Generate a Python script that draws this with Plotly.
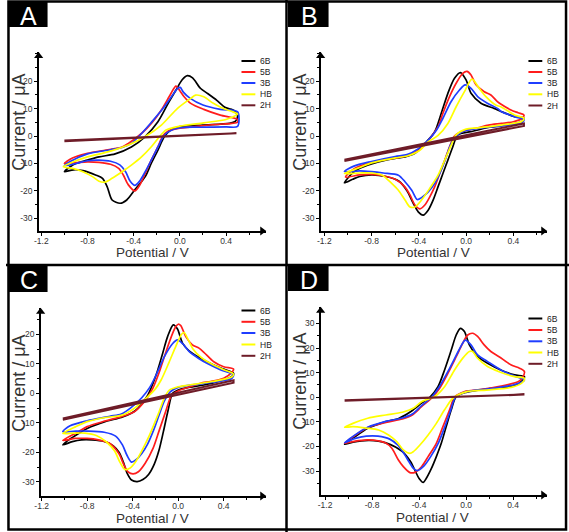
import plotly.graph_objects as go

# ---------------- data (potential V, current uA) ----------------
SERIES = ["6B", "5B", "3B", "HB", "2H"]
X_TICKS = [-1.2, -0.8, -0.4, 0.0, 0.4]
X_TICK_TEXT = ["-1.2", "-0.8", "-0.4", "0.0", "0.4"]
Y_TICKS_ABC = [-30, -20, -10, 0, 10, 20]
Y_TICKS_D = [-30, -20, -10, 0, 10, 20, 30]

A_6B = [(-1.0,-13.0),(-0.95,-11.2),(-0.9,-10.0),(-0.8,-8.8),(-0.7,-7.6),(-0.56,-6.5),(-0.42,-4.0),(-0.3,-0.2),(-0.19,5.2),(-0.1,12.0),(-0.03,17.0),(0.02,20.5),(0.065,22.0),(0.11,21.2),(0.18,17.3),(0.24,15.5),(0.32,13.0),(0.39,10.5),(0.44,9.8),(0.47,9.2),(0.5,7.2),(0.48,5.3),(0.43,4.6),(0.2,4.0),(0.0,3.4),(-0.08,2.2),(-0.134,-0.2),(-0.19,-5.1),(-0.247,-9.9),(-0.3,-14.8),(-0.39,-19.6),(-0.46,-23.3),(-0.517,-24.5),(-0.587,-23.3),(-0.63,-18.4),(-0.67,-15.4),(-0.73,-14.2),(-0.84,-12.6),(-0.92,-12.3),(-1.0,-13.0)]
A_5B = [(-1.0,-10.0),(-0.93,-8.0),(-0.8,-6.3),(-0.64,-5.1),(-0.5,-4.0),(-0.446,-2.7),(-0.33,1.0),(-0.247,4.6),(-0.16,9.5),(-0.077,15.5),(-0.034,18.2),(0.0,16.5),(0.037,14.3),(0.094,11.9),(0.207,9.7),(0.35,7.6),(0.5,6.0),(0.5,5.0),(0.45,4.6),(0.3,4.2),(0.1,3.3),(0.0,2.9),(-0.1,1.8),(-0.15,-0.2),(-0.19,-3.9),(-0.247,-8.7),(-0.3,-13.6),(-0.346,-17.8),(-0.39,-20.0),(-0.446,-17.8),(-0.49,-14.2),(-0.53,-11.8),(-0.6,-10.3),(-0.7,-9.6),(-0.8,-9.4),(-0.9,-9.7),(-1.0,-10.0)]
A_3B = [(-1.0,-10.8),(-0.95,-9.3),(-0.8,-6.5),(-0.6,-5.0),(-0.5,-4.2),(-0.42,-2.7),(-0.33,1.0),(-0.25,4.8),(-0.15,9.8),(-0.07,14.5),(-0.02,17.3),(0.003,17.7),(0.03,16.0),(0.09,13.7),(0.2,11.3),(0.35,9.7),(0.5,8.8),(0.5,3.5),(0.4,3.3),(0.2,3.2),(0.0,3.0),(-0.1,1.5),(-0.14,0.0),(-0.19,-4.0),(-0.25,-9.0),(-0.3,-13.0),(-0.35,-16.5),(-0.39,-18.0),(-0.43,-16.5),(-0.47,-13.0),(-0.52,-10.5),(-0.6,-9.2),(-0.7,-8.8),(-0.8,-9.0),(-0.9,-10.0),(-1.0,-10.8)]
A_HB = [(-1.01,-11.2),(-0.9,-9.0),(-0.8,-7.6),(-0.73,-6.9),(-0.6,-5.5),(-0.446,-3.3),(-0.3,-0.2),(-0.16,4.0),(-0.02,10.1),(0.094,13.7),(0.136,14.9),(0.207,14.3),(0.29,11.9),(0.377,10.0),(0.46,8.8),(0.5,8.0),(0.45,6.8),(0.4,6.0),(0.207,4.8),(0.0,3.6),(-0.12,2.2),(-0.176,-0.2),(-0.247,-3.9),(-0.33,-7.5),(-0.417,-10.5),(-0.5,-13.0),(-0.587,-15.4),(-0.65,-16.8),(-0.7,-16.5),(-0.757,-14.8),(-0.84,-13.0),(-0.93,-11.8),(-1.01,-11.2)]
A_2H = [(-1.0,-1.9),(0.49,0.75),(0.49,1.0),(-1.0,-1.6)]

B_6B = [(-1.03,-17.1),(-0.96,-13.5),(-0.9,-11.8),(-0.8,-10.2),(-0.68,-8.8),(-0.58,-8.0),(-0.517,-7.6),(-0.433,-6.3),(-0.335,-2.1),(-0.265,1.6),(-0.21,8.3),(-0.154,15.6),(-0.098,21.1),(-0.048,23.2),(0.0,20.5),(0.042,15.6),(0.126,12.0),(0.237,10.1),(0.3,8.9),(0.41,7.1),(0.49,6.5),(0.47,5.2),(0.4,4.5),(0.2,3.2),(0.04,1.6),(-0.07,0.4),(-0.112,-3.9),(-0.154,-8.8),(-0.196,-13.7),(-0.237,-18.5),(-0.279,-23.4),(-0.321,-27.1),(-0.363,-28.9),(-0.405,-27.7),(-0.447,-24.6),(-0.5,-20.0),(-0.567,-16.5),(-0.68,-14.8),(-0.8,-14.2),(-0.9,-14.8),(-0.96,-15.8),(-1.03,-17.1)]
B_5B = [(-1.02,-15.0),(-0.95,-12.0),(-0.9,-11.0),(-0.8,-9.6),(-0.6,-8.0),(-0.5,-7.2),(-0.4,-5.2),(-0.33,-2.2),(-0.293,-0.2),(-0.237,3.4),(-0.196,8.3),(-0.14,14.4),(-0.084,19.3),(-0.028,22.9),(0.008,23.6),(0.042,22.3),(0.084,18.7),(0.154,16.2),(0.21,15.0),(0.265,12.6),(0.3,11.5),(0.38,9.5),(0.44,8.5),(0.49,7.7),(0.47,6.3),(0.4,5.2),(0.3,4.6),(0.19,4.0),(0.1,3.0),(0.0,2.0),(-0.06,1.2),(-0.098,0.0),(-0.14,-3.9),(-0.18,-8.8),(-0.223,-13.7),(-0.265,-18.5),(-0.307,-22.2),(-0.349,-25.2),(-0.39,-26.6),(-0.433,-25.2),(-0.475,-21.5),(-0.52,-18.5),(-0.6,-15.8),(-0.7,-14.5),(-0.8,-14.0),(-0.9,-14.2),(-1.02,-15.0)]
B_3B = [(-1.03,-13.0),(-0.95,-11.0),(-0.8,-9.3),(-0.6,-7.5),(-0.5,-6.8),(-0.4,-4.5),(-0.32,-1.5),(-0.25,2.2),(-0.196,6.5),(-0.126,12.6),(-0.056,16.8),(-0.008,18.7),(0.042,17.4),(0.098,14.4),(0.18,12.0),(0.265,10.1),(0.3,8.9),(0.41,7.1),(0.49,5.9),(0.47,4.8),(0.4,4.2),(0.2,3.3),(0.0,2.0),(-0.07,0.5),(-0.126,-2.7),(-0.168,-7.6),(-0.21,-12.4),(-0.265,-17.3),(-0.32,-20.4),(-0.377,-22.5),(-0.413,-23.2),(-0.46,-19.8),(-0.517,-16.7),(-0.573,-14.3),(-0.7,-13.5),(-0.8,-13.0),(-0.9,-12.7),(-1.03,-13.0)]
B_HB = [(-1.03,-13.7),(-0.9,-11.5),(-0.8,-9.8),(-0.6,-8.0),(-0.5,-7.3),(-0.4,-5.5),(-0.32,-2.1),(-0.237,0.2),(-0.154,4.6),(-0.084,10.7),(-0.014,16.2),(0.05,20.8),(0.112,17.4),(0.168,14.4),(0.251,11.3),(0.293,10.7),(0.41,7.7),(0.49,6.5),(0.47,5.3),(0.3,4.0),(0.1,3.0),(0.0,2.5),(-0.084,0.4),(-0.126,-3.3),(-0.18,-8.8),(-0.237,-14.3),(-0.307,-19.1),(-0.377,-23.4),(-0.433,-25.9),(-0.475,-25.9),(-0.517,-23.4),(-0.573,-19.8),(-0.63,-17.3),(-0.71,-14.3),(-0.8,-13.5),(-0.9,-13.5),(-1.03,-13.7)]
B_2H = [(-1.03,-8.7),(0.49,4.6),(0.49,3.7),(-1.03,-9.1)]

C_6B = [(-1.014,-17.5),(-0.962,-15.8),(-0.875,-13.6),(-0.8,-11.9),(-0.643,-9.6),(-0.5,-8.2),(-0.412,-6.8),(-0.354,-5.1),(-0.267,-0.6),(-0.194,6.2),(-0.136,13.6),(-0.093,19.2),(-0.043,23.2),(-0.006,21.8),(0.038,17.0),(0.096,14.4),(0.197,11.9),(0.313,9.6),(0.4,8.2),(0.487,6.8),(0.47,5.6),(0.371,4.2),(0.226,2.8),(0.081,1.9),(0.0,1.1),(-0.049,0.0),(-0.09,-6.0),(-0.13,-13.0),(-0.17,-19.5),(-0.21,-24.0),(-0.26,-27.5),(-0.31,-29.2),(-0.36,-29.9),(-0.41,-29.4),(-0.45,-27.0),(-0.48,-23.5),(-0.52,-20.0),(-0.57,-17.8),(-0.65,-16.3),(-0.76,-15.8),(-0.85,-15.8),(-0.93,-16.4),(-1.014,-17.5)]
C_5B = [(-1.014,-16.0),(-0.875,-13.0),(-0.8,-11.3),(-0.643,-9.4),(-0.5,-7.9),(-0.383,-6.2),(-0.296,-2.8),(-0.223,1.7),(-0.165,7.3),(-0.107,14.1),(-0.049,20.3),(-0.02,22.6),(0.0,23.4),(0.023,22.9),(0.067,19.2),(0.125,16.4),(0.183,15.3),(0.226,13.9),(0.313,10.7),(0.4,9.0),(0.487,8.2),(0.47,7.0),(0.4,5.1),(0.284,4.0),(0.197,3.4),(0.081,1.9),(0.0,0.8),(-0.06,-0.8),(-0.11,-6.2),(-0.165,-12.4),(-0.22,-18.6),(-0.29,-23.7),(-0.35,-26.6),(-0.397,-27.3),(-0.44,-26.6),(-0.48,-24.0),(-0.52,-20.5),(-0.6,-17.0),(-0.7,-15.8),(-0.8,-15.3),(-0.904,-15.3),(-1.014,-16.0)]
C_3B = [(-1.014,-13.0),(-0.95,-11.0),(-0.8,-9.3),(-0.6,-7.8),(-0.5,-7.0),(-0.42,-5.0),(-0.32,-1.5),(-0.25,2.0),(-0.19,6.5),(-0.12,12.5),(-0.05,16.8),(-0.006,18.1),(0.04,16.8),(0.1,14.0),(0.18,11.8),(0.27,9.8),(0.37,8.0),(0.487,6.3),(0.47,5.0),(0.4,4.3),(0.2,3.2),(0.0,2.0),(-0.07,0.5),(-0.12,-2.5),(-0.17,-7.6),(-0.215,-12.4),(-0.27,-17.3),(-0.32,-20.4),(-0.37,-22.5),(-0.41,-23.3),(-0.45,-21.0),(-0.49,-17.5),(-0.55,-14.5),(-0.65,-13.2),(-0.8,-12.8),(-0.9,-12.8),(-1.014,-13.0)]
C_HB = [(-1.014,-13.6),(-0.9,-11.3),(-0.8,-9.6),(-0.64,-8.2),(-0.5,-7.5),(-0.4,-5.5),(-0.3,-2.3),(-0.2,1.5),(-0.15,4.5),(-0.08,10.5),(-0.02,16.0),(0.03,20.0),(0.052,20.6),(0.09,18.0),(0.13,15.0),(0.2,12.2),(0.3,9.8),(0.4,8.0),(0.487,6.5),(0.47,5.5),(0.3,4.0),(0.1,2.8),(0.0,2.2),(-0.08,1.0),(-0.12,-1.5),(-0.18,-7.5),(-0.25,-14.0),(-0.32,-19.5),(-0.38,-23.5),(-0.43,-25.5),(-0.47,-25.8),(-0.51,-23.5),(-0.56,-19.5),(-0.63,-16.5),(-0.72,-14.3),(-0.82,-13.5),(-0.92,-13.5),(-1.014,-13.6)]
C_2H = [(-1.014,-8.5),(0.487,4.4),(0.487,3.6),(-1.014,-9.0)]

D_6B = [(-1.034,-19.1),(-0.963,-16.7),(-0.837,-12.6),(-0.683,-9.9),(-0.57,-8.5),(-0.463,-5.6),(-0.379,-2.4),(-0.309,0.0),(-0.239,4.3),(-0.183,11.1),(-0.126,19.2),(-0.084,25.3),(-0.048,28.0),(-0.014,26.7),(0.028,21.3),(0.098,16.5),(0.183,13.8),(0.295,11.1),(0.413,9.1),(0.497,8.4),(0.48,6.8),(0.4,4.5),(0.2,3.5),(0.0,2.0),(-0.084,0.3),(-0.126,-5.1),(-0.169,-11.9),(-0.211,-18.7),(-0.253,-24.1),(-0.295,-28.9),(-0.337,-32.8),(-0.365,-34.6),(-0.4,-33.0),(-0.43,-30.2),(-0.472,-26.2),(-0.542,-22.1),(-0.683,-18.5),(-0.823,-17.5),(-0.963,-18.2),(-1.034,-19.1)]
D_5B = [(-1.034,-18.7),(-0.96,-16.0),(-0.837,-12.3),(-0.683,-10.2),(-0.542,-8.8),(-0.458,-7.2),(-0.379,-3.8),(-0.295,-0.4),(-0.225,3.7),(-0.154,9.8),(-0.084,16.5),(-0.028,22.0),(0.014,25.3),(0.056,26.0),(0.098,24.7),(0.154,21.3),(0.211,18.6),(0.281,16.5),(0.385,13.1),(0.455,11.8),(0.497,10.4),(0.48,8.0),(0.45,6.5),(0.3,4.5),(0.1,3.0),(0.0,2.5),(-0.098,0.0),(-0.14,-5.1),(-0.197,-11.9),(-0.253,-18.7),(-0.323,-24.1),(-0.379,-28.2),(-0.435,-30.5),(-0.478,-30.6),(-0.534,-28.2),(-0.576,-25.5),(-0.632,-20.7),(-0.688,-18.5),(-0.837,-17.3),(-0.963,-18.0),(-1.034,-18.7)]
D_3B = [(-1.034,-18.5),(-0.96,-15.8),(-0.837,-12.2),(-0.683,-9.8),(-0.542,-8.4),(-0.458,-6.8),(-0.379,-3.4),(-0.295,0.0),(-0.225,4.5),(-0.154,10.5),(-0.084,17.0),(-0.035,21.5),(-0.008,23.2),(0.042,21.3),(0.098,17.2),(0.183,14.5),(0.3,11.0),(0.413,8.6),(0.497,7.0),(0.48,6.3),(0.4,5.0),(0.2,3.5),(0.0,2.2),(-0.09,0.0),(-0.135,-5.8),(-0.185,-12.5),(-0.235,-18.5),(-0.3,-24.0),(-0.36,-28.0),(-0.416,-29.8),(-0.45,-28.8),(-0.486,-26.2),(-0.52,-23.5),(-0.58,-19.5),(-0.65,-17.0),(-0.75,-15.8),(-0.85,-15.8),(-0.95,-16.8),(-1.034,-18.5)]
D_HB = [(-1.034,-12.2),(-0.963,-10.6),(-0.837,-8.5),(-0.683,-7.2),(-0.542,-6.1),(-0.45,-4.5),(-0.379,-1.8),(-0.267,0.3),(-0.183,4.3),(-0.098,11.1),(-0.028,15.9),(0.028,18.6),(0.056,18.6),(0.098,15.9),(0.183,12.5),(0.281,10.4),(0.413,8.4),(0.497,7.7),(0.48,6.0),(0.4,4.2),(0.2,3.0),(0.0,2.2),(-0.112,-0.4),(-0.183,-5.1),(-0.253,-10.6),(-0.323,-15.3),(-0.393,-19.4),(-0.449,-22.1),(-0.478,-22.8),(-0.534,-21.4),(-0.59,-18.0),(-0.66,-15.3),(-0.744,-13.3),(-0.85,-12.5),(-0.963,-11.9),(-1.034,-12.2)]
D_2H = [(-1.034,-1.4),(0.497,0.9),(0.497,1.1),(-1.034,-1.2)]

# ---------------- styling / layout ----------------
W, H = 569, 532
COLORS = {"6B": "#000000", "5B": "#ff1c1c", "3B": "#1f3dff", "HB": "#ffff00", "2H": "#6e1c28"}
FONT = "Liberation Sans, Arial, sans-serif"
TXT = "#333333"

PANELS = [
    dict(label="A", data={"6B": A_6B, "5B": A_5B, "3B": A_3B, "HB": A_HB, "2H": A_2H},
         px=(33, 263), py=(52, 231), xr=(-1.223, 0.748), yr=(-34.6, 30.6), yt=Y_TICKS_ABC,
         box=(2, 2, 42, 27), ytitle=(13, 122), xtitle=(148, 252.5),
         leg_x=(238, 252), leg_y=[61, 72, 83, 94.3, 105.3]),
    dict(label="B", data={"6B": B_6B, "5B": B_5B, "3B": B_3B, "HB": B_HB, "2H": B_2H},
         px=(318, 547), py=(52, 231), xr=(-1.231, 0.687), yr=(-34.7, 30.7), yt=Y_TICKS_ABC,
         box=(285, 2, 326, 27), ytitle=(297, 122), xtitle=(432, 252.5),
         leg_x=(528, 542), leg_y=[61, 72, 83, 94.3, 105.5]),
    dict(label="C", data={"6B": C_6B, "5B": C_5B, "3B": C_3B, "HB": C_HB, "2H": C_2H},
         px=(35, 263), py=(307.7, 496), xr=(-1.209, 0.774), yr=(-34.8, 29.0), yt=Y_TICKS_ABC,
         box=(2, 266, 42, 292), ytitle=(13, 383), xtitle=(148, 518.5),
         leg_x=(238, 252), leg_y=[310.5, 321.8, 333, 344.5, 355.8]),
    dict(label="D", data={"6B": D_6B, "5B": D_5B, "3B": D_3B, "HB": D_HB, "2H": D_2H},
         px=(318, 547), py=(306.7, 495), xr=(-1.238, 0.691), yr=(-39.7, 36.8), yt=Y_TICKS_D,
         box=(285, 266, 326, 291), ytitle=(297, 381), xtitle=(431, 517.5),
         leg_x=(528, 542), leg_y=[318.5, 330, 341.3, 352.5, 363.8]),
]

fig = go.Figure()
layout = dict(width=W, height=H, margin=dict(l=0, r=0, t=0, b=0), autosize=False,
              paper_bgcolor="white", plot_bgcolor="rgba(0,0,0,0)", showlegend=False,
              font=dict(family=FONT, color=TXT))
shapes, annotations = [], []

def X(p):
    return p / W

def Y(p):
    return 1 - p / H

for k, p in enumerate(PANELS):
    n = k + 1
    xr_ = "x" if n == 1 else f"x{n}"
    yr_ = "y" if n == 1 else f"y{n}"
    xa = "xaxis" if n == 1 else f"xaxis{n}"
    ya = "yaxis" if n == 1 else f"yaxis{n}"
    common = dict(showline=True, linecolor="black", linewidth=1.5, ticks="outside",
                  ticklen=3, tickwidth=1, tickcolor="black", showgrid=False, zeroline=False,
                  tickfont=dict(size=8.5, color=TXT, family=FONT), fixedrange=True)
    layout[xa] = dict(domain=[X(p["px"][0]), X(p["px"][1])], range=list(p["xr"]), anchor=yr_,
                      tickmode="array", tickvals=X_TICKS, ticktext=X_TICK_TEXT, ticklabelstandoff=-2,
                      minor=dict(ticks="outside", ticklen=2, tickcolor="black", dtick=0.2, tick0=0),
                      **common)
    layout[ya] = dict(domain=[Y(p["py"][1]), Y(p["py"][0])], range=list(p["yr"]), anchor=xr_,
                      tickmode="array", tickvals=p["yt"], ticktext=[str(v) for v in p["yt"]],
                      minor=dict(ticks="outside", ticklen=2, tickcolor="black", dtick=5, tick0=0),
                      **common)
    for s in SERIES:
        pts = p["data"][s]
        fig.add_trace(go.Scatter(
            x=[v for v, _ in pts], y=[c for _, c in pts], mode="lines", name=s,
            line=dict(color=COLORS[s], width=1.7 if s != "2H" else 2.0,
                      shape="linear" if s == "2H" else "spline", smoothing=0.8),
            xaxis=xr_, yaxis=yr_, hoverinfo="skip"))
    # arrow heads at axis ends
    sx = (p["px"][1] - p["px"][0]) / (p["xr"][1] - p["xr"][0])
    sy = (p["py"][1] - p["py"][0]) / (p["yr"][1] - p["yr"][0])
    fig.add_trace(go.Scatter(x=[p["xr"][0]], y=[p["yr"][1] - 4 / sy], mode="markers",
                             marker=dict(symbol="triangle-up", size=8, color="black"),
                             xaxis=xr_, yaxis=yr_, cliponaxis=False, hoverinfo="skip"))
    fig.add_trace(go.Scatter(x=[p["xr"][1] - 4 / sx], y=[p["yr"][0]], mode="markers",
                             marker=dict(symbol="triangle-right", size=8, color="black"),
                             xaxis=xr_, yaxis=yr_, cliponaxis=False, hoverinfo="skip"))
    # panel letter box
    bx0, by0, bx1, by1 = p["box"]
    shapes.append(dict(type="rect", xref="paper", yref="paper", x0=X(bx0), x1=X(bx1),
                       y0=Y(by1), y1=Y(by0), fillcolor="black", line=dict(width=0), layer="above"))
    annotations.append(dict(text=p["label"], xref="paper", yref="paper", x=X((bx0 + bx1) / 2 + 1),
                            y=Y((by0 + by1) / 2 + 1), showarrow=False, xanchor="center", yanchor="middle",
                            font=dict(size=25, color="white", family=FONT)))
    # axis titles
    annotations.append(dict(text="Current / μA", xref="paper", yref="paper", x=X(p["ytitle"][0]),
                            y=Y(p["ytitle"][1]), textangle=-90, showarrow=False,
                            xanchor="center", yanchor="middle", font=dict(size=18, color=TXT, family=FONT)))
    annotations.append(dict(text="Potential / V", xref="paper", yref="paper", x=X(p["xtitle"][0]),
                            y=Y(p["xtitle"][1]), showarrow=False, xanchor="center", yanchor="middle",
                            font=dict(size=13.5, color=TXT, family=FONT)))
    # legend keys
    for s, ly in zip(SERIES, p["leg_y"]):
        shapes.append(dict(type="line", xref="paper", yref="paper", x0=X(p["leg_x"][0]), x1=X(p["leg_x"][1]),
                           y0=Y(ly), y1=Y(ly), line=dict(color=COLORS[s], width=2)))
        annotations.append(dict(text=s, xref="paper", yref="paper", x=X(p["leg_x"][1] + 3), y=Y(ly),
                                showarrow=False, xanchor="left", yanchor="middle",
                                font=dict(size=8.5, color="#222222", family=FONT)))

# frame and dividers
shapes.append(dict(type="rect", xref="paper", yref="paper", x0=X(2.5), x1=X(566), y0=Y(529.5), y1=Y(1.5),
                   line=dict(color="black", width=2.5), fillcolor="rgba(0,0,0,0)", layer="above"))
shapes.append(dict(type="line", xref="paper", yref="paper", x0=X(283.5), x1=X(283.5), y0=0, y1=1,
                   line=dict(color="black", width=2.5), layer="above"))
shapes.append(dict(type="line", xref="paper", yref="paper", x0=0, x1=1, y0=Y(265), y1=Y(265),
                   line=dict(color="black", width=2.5), layer="above"))

layout["shapes"] = shapes
layout["annotations"] = annotations
fig.update_layout(**layout)
fig.write_html("out.html", config={"displayModeBar": False, "staticPlot": True},
               post_script="document.body.style.margin='0';document.body.style.padding='0';"
                           "document.body.style.overflow='hidden';")
